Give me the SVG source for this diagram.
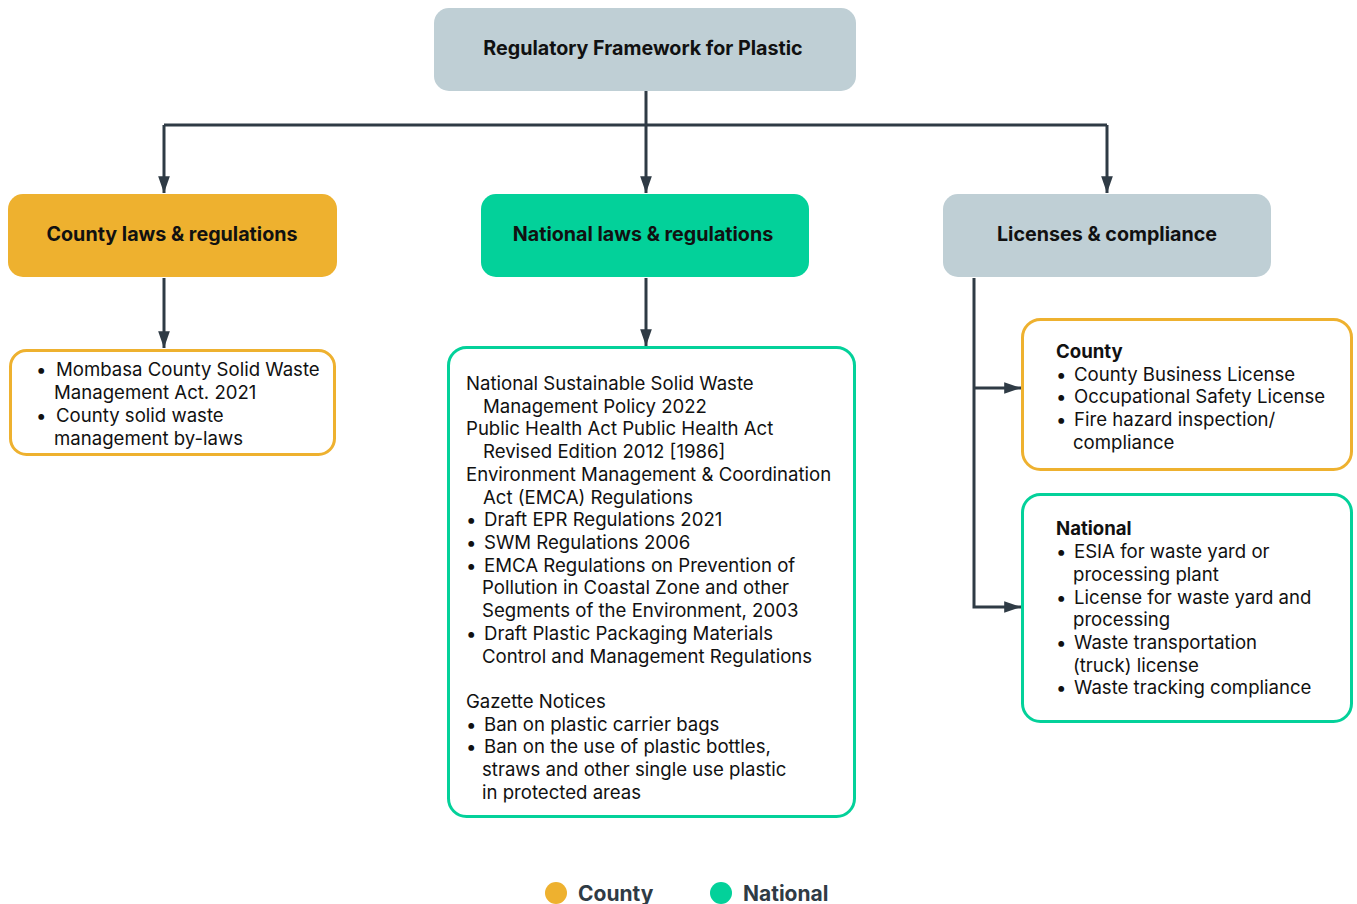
<svg xmlns="http://www.w3.org/2000/svg" width="1357" height="904" viewBox="0 0 1357 904">
<defs>
<marker id="arr" viewBox="0 0 10 10" refX="10" refY="5" markerWidth="5.6" markerHeight="3.9" markerUnits="strokeWidth" orient="auto" preserveAspectRatio="none">
<path d="M0,0 L10,5 L0,10 Z" fill="#2f3b45"/>
</marker>
<style>
.t{font-family:Inter,"Liberation Sans",sans-serif;font-size:18.6px;fill:#111}
.h{font-family:Inter,"Liberation Sans",sans-serif;font-size:19.7px;font-weight:700;fill:#111;text-anchor:middle}
.b{font-weight:700}
.c{fill:none;stroke:#2f3b45;stroke-width:3}
.gray{fill:#bfcfd5}
.lg{font-family:Inter,"Liberation Sans",sans-serif;font-size:21px;font-weight:700;fill:#2f3b45}
</style>
</defs>
<rect width="1357" height="904" fill="#fff"/>
<g id="connectors">
<path class="c" d="M646,91 V125"/>
<path class="c" d="M164,125 H1107"/>
<path class="c" d="M164,125 V193" marker-end="url(#arr)"/>
<path class="c" d="M646,125 V193" marker-end="url(#arr)"/>
<path class="c" d="M1107,125 V193" marker-end="url(#arr)"/>
<path class="c" d="M164,278 V348" marker-end="url(#arr)"/>
<path class="c" d="M646,278 V346" marker-end="url(#arr)"/>
<path class="c" d="M974,278 V607 H1021" marker-end="url(#arr)"/>
<path class="c" d="M974,388 H1021" marker-end="url(#arr)"/>
</g>
<g id="root">
<rect class="gray" x="434" y="8" width="422" height="83" rx="15"/>
<text class="h" x="643" y="55">Regulatory Framework for Plastic</text>
</g>
<g id="county">
<rect x="8" y="194" width="329" height="83" rx="15" fill="#eeb12f"/>
<text class="h" x="172" y="241">County laws &amp; regulations</text>
</g>
<g id="national">
<rect x="481" y="194" width="328" height="83" rx="15" fill="#03d19a"/>
<text class="h" x="643" y="241">National laws &amp; regulations</text>
</g>
<g id="licenses">
<rect class="gray" x="943" y="194" width="328" height="83" rx="15"/>
<text class="h" x="1107" y="241">Licenses &amp; compliance</text>
</g>
<g id="county-list">
<rect x="10.5" y="350.5" width="324" height="104" rx="16" fill="#fff" stroke="#eeb12f" stroke-width="3"/>
<text class="t">
<tspan x="36" y="376">•</tspan><tspan x="56" y="376">Mombasa County Solid Waste</tspan>
<tspan x="54" y="399">Management Act. 2021</tspan>
<tspan x="36" y="422">•</tspan><tspan x="56" y="422">County solid waste</tspan>
<tspan x="54" y="445">management by-laws</tspan>
</text>
</g>
<g id="national-list">
<rect x="448.5" y="347.5" width="406" height="469" rx="18" fill="#fff" stroke="#03d19a" stroke-width="3"/>
<text class="t">
<tspan x="466" y="390">National Sustainable Solid Waste</tspan>
<tspan x="483" y="413">Management Policy 2022</tspan>
<tspan x="466" y="435">Public Health Act Public Health Act</tspan>
<tspan x="483" y="458">Revised Edition 2012 [1986]</tspan>
<tspan x="466" y="481">Environment Management &amp; Coordination</tspan>
<tspan x="483" y="504">Act (EMCA) Regulations</tspan>
<tspan x="466" y="526">•</tspan><tspan x="484" y="526">Draft EPR Regulations 2021</tspan>
<tspan x="466" y="549">•</tspan><tspan x="484" y="549">SWM Regulations 2006</tspan>
<tspan x="466" y="572">•</tspan><tspan x="484" y="572">EMCA Regulations on Prevention of</tspan>
<tspan x="482" y="594">Pollution in Coastal Zone and other</tspan>
<tspan x="482" y="617">Segments of the Environment, 2003</tspan>
<tspan x="466" y="640">•</tspan><tspan x="484" y="640">Draft Plastic Packaging Materials</tspan>
<tspan x="482" y="663">Control and Management Regulations</tspan>
<tspan x="466" y="708">Gazette Notices</tspan>
<tspan x="466" y="731">•</tspan><tspan x="484" y="731">Ban on plastic carrier bags</tspan>
<tspan x="466" y="753">•</tspan><tspan x="484" y="753">Ban on the use of plastic bottles,</tspan>
<tspan x="482" y="776">straws and other single use plastic</tspan>
<tspan x="482" y="799">in protected areas</tspan>
</text>
</g>
<g id="county-licenses">
<rect x="1022.5" y="319.5" width="329" height="150" rx="18" fill="#fff" stroke="#eeb12f" stroke-width="3"/>
<text class="t">
<tspan class="b" x="1056" y="358">County</tspan>
<tspan x="1056" y="381">•</tspan><tspan x="1074" y="381">County Business License</tspan>
<tspan x="1056" y="403">•</tspan><tspan x="1074" y="403">Occupational Safety License</tspan>
<tspan x="1056" y="426">•</tspan><tspan x="1074" y="426">Fire hazard inspection/</tspan>
<tspan x="1073" y="449">compliance</tspan>
</text>
</g>
<g id="national-licenses">
<rect x="1022.5" y="494.5" width="329" height="227" rx="18" fill="#fff" stroke="#03d19a" stroke-width="3"/>
<text class="t">
<tspan class="b" x="1056" y="535">National</tspan>
<tspan x="1056" y="558">•</tspan><tspan x="1074" y="558">ESIA for waste yard or</tspan>
<tspan x="1073" y="581">processing plant</tspan>
<tspan x="1056" y="604">•</tspan><tspan x="1074" y="604">License for waste yard and</tspan>
<tspan x="1073" y="626">processing</tspan>
<tspan x="1056" y="649">•</tspan><tspan x="1074" y="649">Waste transportation</tspan>
<tspan x="1073" y="672">(truck) license</tspan>
<tspan x="1056" y="694">•</tspan><tspan x="1074" y="694">Waste tracking compliance</tspan>
</text>
</g>
<g id="legend">
<circle cx="556" cy="893" r="11" fill="#eeb12f"/>
<text class="lg" x="578" y="901">County</text>
<circle cx="721" cy="893" r="11" fill="#03d19a"/>
<text class="lg" x="743" y="901">National</text>
</g>
</svg>
